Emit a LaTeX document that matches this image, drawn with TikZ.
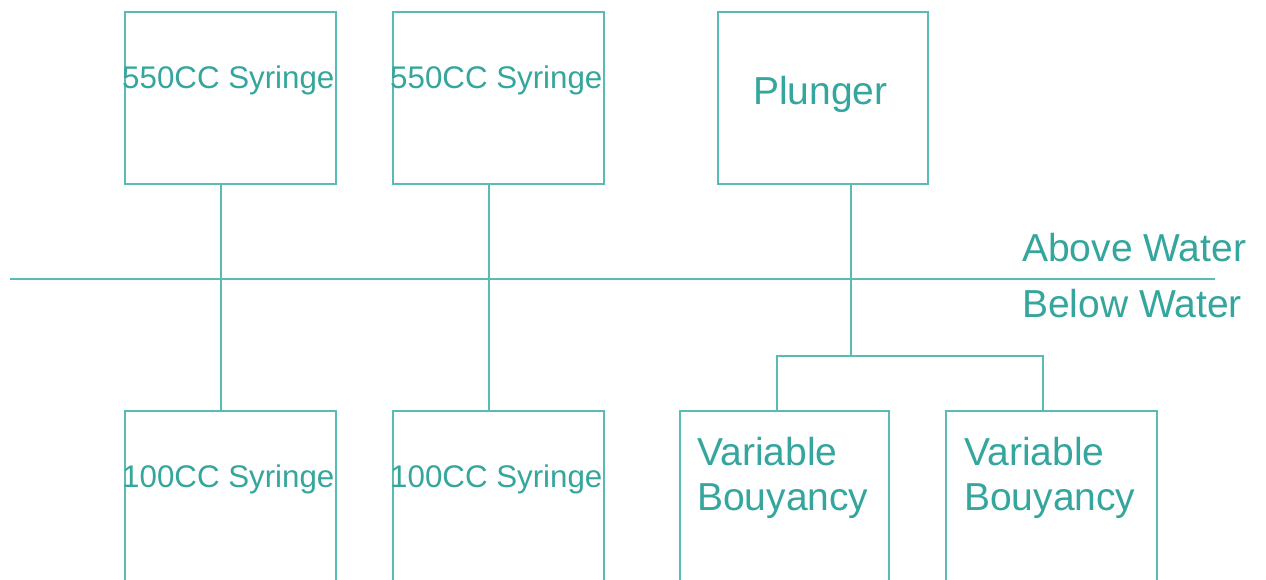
\documentclass[tikz,border=0pt]{standalone}
\usepackage{fontspec}
\setmainfont{Liberation Sans}
\definecolor{tealline}{RGB}{88,188,180}
\definecolor{tealtext}{RGB}{52,166,157}
\tikzset{
  unitbox/.style={draw=tealline, line width=2.2pt, fill=none, inner sep=0pt, outer sep=0pt},
  wire/.style={draw=tealline, line width=2.2pt},
  smalllabel/.style={text=tealtext, anchor=base west, inner sep=0pt, font=\fontsize{31.3}{36}\selectfont},
  biglabel/.style={text=tealtext, anchor=base west, inner sep=0pt, align=left, font=\fontsize{39}{45}\selectfont},
}
\begin{document}
\begin{tikzpicture}[x=1pt, y=-1pt]
\useasboundingbox (0,0) rectangle (1266,579);
\fill[white] (0,0) rectangle (1266,579);

% upper row (above water)
\node[unitbox, minimum width=211pt, minimum height=172pt] (syrA) at (230.5,98) {};
\node[unitbox, minimum width=211pt, minimum height=172pt] (syrB) at (498.5,98) {};
\node[unitbox, minimum width=210pt, minimum height=172pt] (plunger) at (823,98) {};

% lower row (below water), running off the bottom edge
\node[unitbox, minimum width=211pt, minimum height=200pt] (smallA) at (230.5,511) {};
\node[unitbox, minimum width=211pt, minimum height=200pt] (smallB) at (498.5,511) {};
\node[unitbox, minimum width=209pt, minimum height=200pt] (vbA) at (784.5,511) {};
\node[unitbox, minimum width=211pt, minimum height=200pt] (vbB) at (1051.5,511) {};

% labels
\node[smalllabel] (tA) at (122,88) {550CC Syringe};
\node[smalllabel] (tB) at (390,88) {550CC Syringe};
\node[biglabel] (tP) at (753,104) {Plunger};
\node[smalllabel] (tC) at (122,487) {100CC Syringe};
\node[smalllabel] (tD) at (390,487) {100CC Syringe};
\node[biglabel] (tE) at (697,510) {Variable\\Bouyancy};
\node[biglabel] (tF) at (964,510) {Variable\\Bouyancy};

% water line
\coordinate (wl) at (10,279);
\coordinate (wr) at (1215,279);
\draw[wire] (wl) -- (wr);
\node[biglabel] (above) at (1022,261) {Above Water};
\node[biglabel] (below) at (1022,317) {Below Water};

% connections
\coordinate (pipeA) at (221,0);
\coordinate (pipeB) at (489,0);
\draw[wire] (syrA.south -| pipeA) -- (smallA.north -| pipeA);
\draw[wire] (syrB.south -| pipeB) -- (smallB.north -| pipeB);
\coordinate (split) at (851,356);
\coordinate (leftdrop) at (777,356);
\coordinate (rightdrop) at (1043,356);
\draw[wire] (plunger.south -| split) -- (split);
\draw[wire] (vbA.north -| leftdrop) -- (leftdrop) -- (rightdrop) -- (vbB.north -| rightdrop);
\end{tikzpicture}
\end{document}
